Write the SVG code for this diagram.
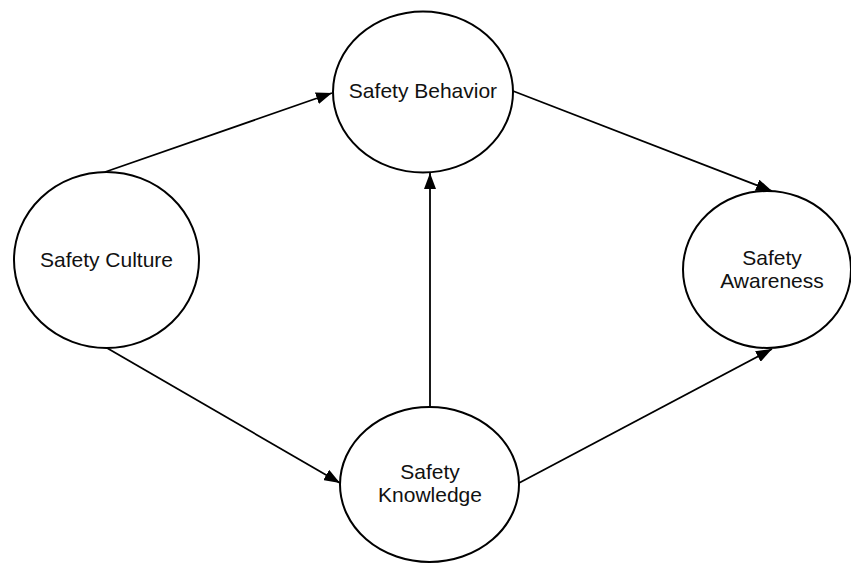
<svg xmlns="http://www.w3.org/2000/svg" width="851" height="563" viewBox="0 0 851 563">
<defs>
<style>
.node ellipse{fill:#fff;stroke:#000;stroke-width:2}
.node text{font-family:"Liberation Sans",Arial,sans-serif;font-size:21px;fill:#111;text-anchor:middle;dominant-baseline:central}
.edges line{stroke:#000;stroke-width:1.8;marker-end:url(#arr)}
</style>
<marker id="arr" markerUnits="userSpaceOnUse" markerWidth="17" markerHeight="12" refX="16" refY="6" orient="auto">
<path d="M0,0 L16,6 L0,12 Z" fill="#000"/>
</marker>
</defs>
<rect width="851" height="563" fill="#fff"/>
<g class="edges" id="connectors">
<line x1="105" y1="172" x2="332" y2="93"/>
<line x1="513" y1="91" x2="772" y2="191"/>
<line x1="430" y1="407" x2="430" y2="173"/>
<line x1="107" y1="348" x2="340" y2="483"/>
<line x1="519" y1="483" x2="772" y2="349"/>
</g>
<g class="node" id="safety-behavior">
<ellipse cx="423" cy="92" rx="90" ry="80.5"/>
<text x="423" y="90">Safety Behavior</text>
</g>
<g class="node" id="safety-culture">
<ellipse cx="106.5" cy="260" rx="92.5" ry="88"/>
<text x="106.5" y="259">Safety Culture</text>
</g>
<g class="node" id="safety-awareness">
<ellipse cx="767" cy="269.5" rx="84" ry="78.5"/>
<text x="772" y="257">Safety</text>
<text x="772" y="280">Awareness</text>
</g>
<g class="node" id="safety-knowledge">
<ellipse cx="429.5" cy="484.5" rx="89.5" ry="77.5"/>
<text x="430" y="471">Safety</text>
<text x="430" y="494">Knowledge</text>
</g>
</svg>
